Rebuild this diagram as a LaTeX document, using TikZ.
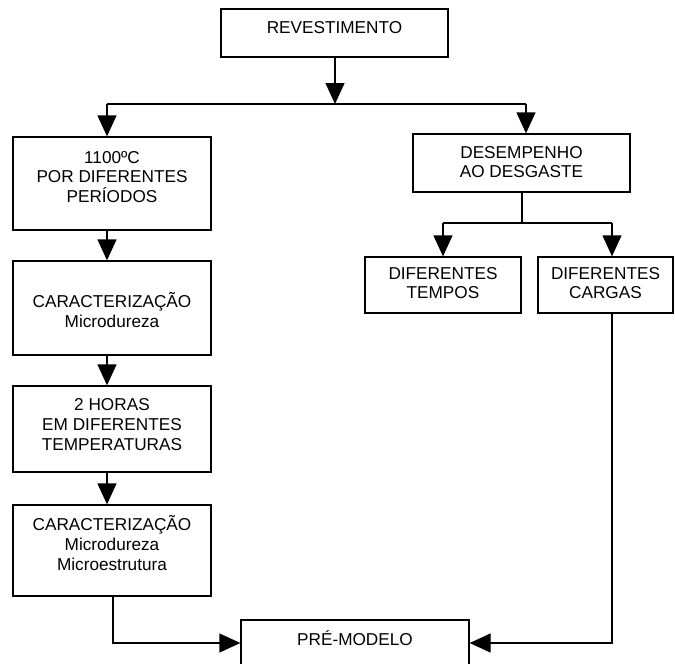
\documentclass[tikz,border=0pt]{standalone}
\usepackage{fontspec}
\setmainfont{Liberation Sans}
\usetikzlibrary{arrows.meta}
\tikzset{
  box/.style={draw, line width=1.3pt, inner sep=0pt},
  lbl/.style={align=center, inner sep=0pt, font=\fontsize{17.2}{19.6}\selectfont},
  conn/.style={line width=1.3pt},
  arr/.style={conn, -{Triangle[length=21pt,width=19pt]}}
}
\begin{document}
\begin{tikzpicture}[x=1pt,y=-1pt]
\useasboundingbox (0,0) rectangle (675,664);
\clip (0,0) rectangle (675,664);
% boxes
\node[box, minimum width=227pt, minimum height=48pt] (rev) at (334.5,33) {};
\node[box, minimum width=198pt, minimum height=93pt] (b1) at (112,183.5) {};
\node[box, minimum width=198pt, minimum height=94pt] (b2) at (112,308) {};
\node[box, minimum width=198pt, minimum height=86pt] (b3) at (112,429) {};
\node[box, minimum width=198pt, minimum height=91pt] (b4) at (112,550.5) {};
\node[box, minimum width=217pt, minimum height=58pt] (des) at (521.5,163) {};
\node[box, minimum width=156pt, minimum height=56pt] (tem) at (443,285) {};
\node[box, minimum width=135pt, minimum height=56pt] (car) at (605.5,285) {};
\node[box, minimum width=228pt, minimum height=46pt] (pre) at (355,643) {};
% labels
\node[lbl] (trev) at (334.5,28) {REVESTIMENTO};
\node[lbl] (tb1) at (112,176.7) {1100ºC\\POR DIFERENTES\\PERÍODOS};
\node[lbl] (tb2) at (112,310) {CARACTERIZAÇÃO\\Microdureza};
\node[lbl] (tb3) at (112,424.5) {2 HORAS\\EM DIFERENTES\\TEMPERATURAS};
\node[lbl] (tb4) at (112,543) {CARACTERIZAÇÃO\\Microdureza\\Microestrutura};
\node[lbl] (tdes) at (521.5,162) {DESEMPENHO\\AO DESGASTE};
\node[lbl] (ttem) at (443,283) {DIFERENTES\\TEMPOS};
\node[lbl] (tcar) at (605.5,283) {DIFERENTES\\CARGAS};
\node[lbl] (tpre) at (355,638) {PRÉ-MODELO};
% junction points
\coordinate (jm) at (335,104);
\coordinate (jl) at (107,104);
\coordinate (jr) at (526,104);
\coordinate (dm) at (522,223);
\coordinate (dl) at (443,223);
\coordinate (dr) at (612,223);
\coordinate (cl) at (113,643);
\coordinate (cr) at (612,643);
% connectors
\draw[arr] (rev.south -| jm) -- (jm);
\draw[conn] (jl) -- (jr);
\draw[arr] (jl) -- (jl |- b1.north);
\draw[arr] (jr) -- (jr |- des.north);
\draw[arr] (b1.south -| jl) -- (b2.north -| jl);
\draw[arr] (b2.south -| jl) -- (b3.north -| jl);
\draw[arr] (b3.south -| jl) -- (b4.north -| jl);
\draw[conn] (des.south -| dm) -- (dm);
\draw[conn] (dl) -- (dr);
\draw[arr] (dl) -- (dl |- tem.north);
\draw[arr] (dr) -- (dr |- car.north);
\draw[arr] (car.south -| cr) -- (cr) -- (pre.east);
\draw[arr] (b4.south -| cl) -- (cl) -- (pre.west);
\end{tikzpicture}
\end{document}
